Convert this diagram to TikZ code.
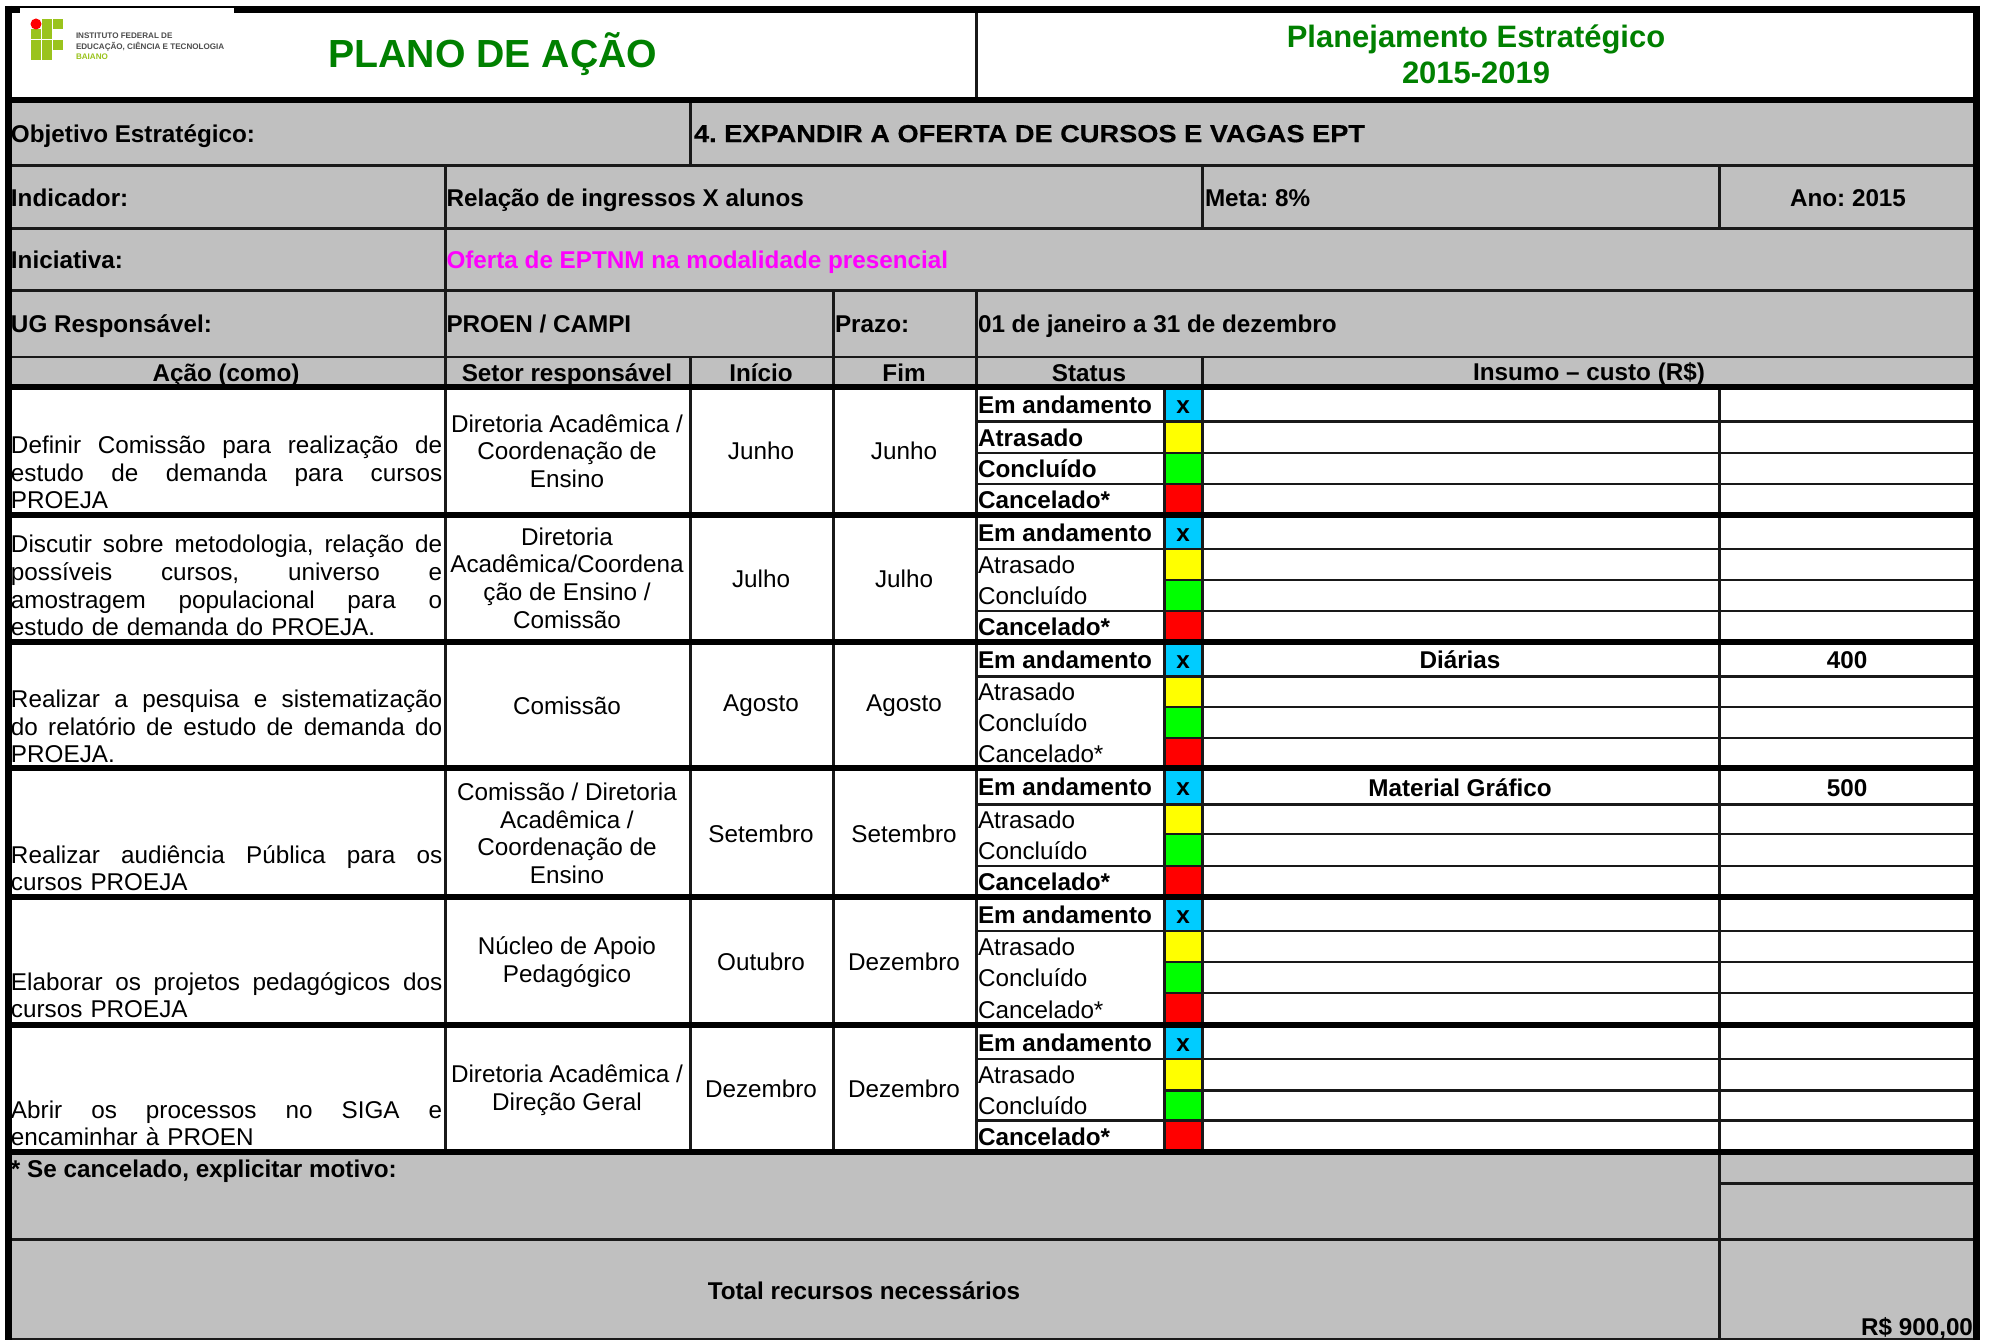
\documentclass[tikz,border=0pt]{standalone}
\usepackage{fontspec}
\setmainfont{Liberation Sans}
\newfontfamily\widefont[BoldFeatures={FakeStretch=1.105,FakeBold=0.4}]{Liberation Sans}
\newcommand{\fs}{\fontsize{6.9}{7.85}\selectfont\frenchspacing}
\newcommand{\jl}[1]{\makebox[4.31cm][s]{\spaceskip=0pt\xspaceskip=0pt\relax #1}}
\definecolor{cellgrey}{HTML}{C0C0C0}
\definecolor{titlegreen}{HTML}{008000}
\definecolor{logogreen}{HTML}{9AC31C}
\definecolor{statblue}{HTML}{00CCFF}
\definecolor{statgreen}{HTML}{00FF00}
\definecolor{statyellow}{HTML}{FFFF00}
\definecolor{statred}{HTML}{FF0000}
\definecolor{pinktext}{HTML}{FF00FF}
\tikzset{
  every node/.style={font=\fs,inner sep=0pt,outer sep=0pt,text=black},
  thinln/.style={line width=0.85pt,draw=black!90},
  thickln/.style={line width=1.7pt,draw=black},
  outerln/.style={line width=2.1pt,draw=black},
  lab/.style={anchor=west,text height=6.3pt,text depth=1.1pt,font=\fs\bfseries},
  ctr/.style={anchor=center,text height=6.3pt,text depth=1.1pt,font=\fs\bfseries},
  plainctr/.style={anchor=center,align=center,font=\fs},
  acao/.style={anchor=south west,text width=4.31cm,align=left,font=\fs},
}
% #1 id, #2-#6 row lines, #7 #8 #9 fonts of the lower three labels
\newcommand{\statusgrp}[9]{%
  \fill[statblue] (1164,#2) rectangle (1202,#3);
  \fill[statyellow] (1164,#3) rectangle (1202,#4);
  \fill[statgreen] (1164,#4) rectangle (1202,#5);
  \fill[statred] (1164,#5) rectangle (1202,#6);
  \draw[thinln] (976,#3) -- (1975,#3);
  \draw[thinln] (1164,#4) -- (1975,#4);
  \draw[thinln] (1164,#5) -- (1975,#5);
  \path (978,{(#2+#3)/2}) node[lab] (em#1) {Em andamento};
  \path (1183,{(#2+#3)/2}) node[ctr] (x#1) {x};
  \path (978,{(#3+#4)/2}) node[lab,font=\fs#7] (at#1) {Atrasado};
  \path (978,{(#4+#5)/2}) node[lab,font=\fs#8] (co#1) {Concluído};
  \path (978,{(#5+#6)/2}) node[lab,font=\fs#9] (ca#1) {Cancelado*};
}
\begin{document}
\begin{tikzpicture}[x=0.01cm,y=-0.01cm]
\useasboundingbox (0,0) rectangle (1991,1340);
\clip (0,0) rectangle (1991,1340);
\fill[white] (0,0) rectangle (1991,1340);
% grey areas
\fill[cellgrey] (8,100) rectangle (1975,387);
\fill[cellgrey] (8,1152) rectangle (1975,1340);
% status boxes and row lines
\statusgrp{a}{387}{421.7}{453}{484}{515}{\bfseries}{\bfseries}{\bfseries}
\statusgrp{b}{515}{549}{580}{611}{641.7}{\mdseries}{\mdseries}{\bfseries}
\statusgrp{c}{641.7}{676.7}{707}{738}{768}{\mdseries}{\mdseries}{\mdseries}
\statusgrp{d}{768}{804.5}{834}{866}{897}{\mdseries}{\mdseries}{\bfseries}
\statusgrp{e}{897}{931}{962}{993}{1025}{\mdseries}{\mdseries}{\mdseries}
\statusgrp{f}{1025}{1059}{1090}{1120}{1152}{\mdseries}{\mdseries}{\bfseries}
\draw[thinln] (976,453) -- (1164,453);
\draw[thinln] (976,484) -- (1164,484);
\draw[thinln] (976,611) -- (1164,611);
\draw[thinln] (976,866) -- (1164,866);
\draw[thinln] (976,1120) -- (1164,1120);
% horizontal lines
\draw[thinln] (8,166) -- (1975,166);
\draw[thinln] (8,229) -- (1975,229);
\draw[thinln] (8,291) -- (1975,291);
\draw[thinln] (8,357) -- (1975,357);
\draw[thinln] (1719,1183) -- (1975,1183);
\draw[thinln] (8,1239) -- (1975,1239);
\draw[thinln] (8,1339) -- (1975,1339);
% vertical lines
\draw[thinln] (976,11) -- (976,100);
\draw[thinln] (690,100) -- (690,166);
\draw[thinln] (445,166) -- (445,1152);
\draw[thinln] (1202,166) -- (1202,229);
\draw[thinln] (1719,166) -- (1719,229);
\draw[thinln] (833,291) -- (833,387);
\draw[thinln] (976,291) -- (976,1152);
\draw[thinln] (690,357) -- (690,1152);
\draw[thinln] (833,387) -- (833,1152);
\draw[thinln] (1164,387) -- (1164,1152);
\draw[thinln] (1202,357) -- (1202,1152);
\draw[thinln] (1719,387) -- (1719,1340);
% thick lines
\draw[thickln] (8,100) -- (1975,100);
\draw[thickln] (8,387) -- (1975,387);
\draw[thickln] (8,515) -- (1975,515);
\draw[thickln] (8,641.7) -- (1975,641.7);
\draw[thickln] (8,768) -- (1975,768);
\draw[thickln] (8,897) -- (1975,897);
\draw[thickln] (8,1025) -- (1975,1025);
\draw[thickln] (8,1152) -- (1975,1152);
\draw[outerln] (6,9.5) -- (1977,9.5);
\draw[outerln] (8.5,6) -- (8.5,1340);
\draw[outerln] (1976.5,6) -- (1976.5,1340);
% logo
\fill[white] (20,8) rectangle (234,90);
\foreach \cx/\cy in {42/19,53/19,31/29,42/29,31/40,42/40,53/40,31/50,42/50}
  \fill[logogreen] (\cx,\cy) rectangle ++(10.3,9.7);
\fill[statred] (36,24) circle (5.5);
\node[anchor=west,font=\fontsize{2.3}{3}\selectfont\bfseries,text=black!70] (logoa) at (76,36) {INSTITUTO FEDERAL DE};
\node[anchor=west,font=\fontsize{2.3}{3}\selectfont\bfseries,text=black!70] (logob) at (76,47) {EDUCAÇÃO, CIÊNCIA E TECNOLOGIA};
\node[anchor=west,font=\fontsize{2.3}{3}\selectfont\bfseries,text=logogreen] (logoc) at (76,57) {BAIANO};
% titles
\node[anchor=center,font=\fontsize{11.15}{13}\selectfont\bfseries,text=titlegreen] (title) at (493,54) {PLANO DE AÇÃO};
\node[anchor=center,align=center,font=\fontsize{8.8}{10.1}\selectfont\bfseries,text=titlegreen] (plan) at (1476,54.5) {Planejamento Estratégico\\2015-2019};
% grey rows
\node[lab] (obj) at (11,133) {Objetivo Estratégico:};
\node[anchor=west,text height=6.3pt,text depth=1.1pt,font=\widefont\fontsize{7}{8}\selectfont\bfseries\frenchspacing] (obv) at (694,133) {4. EXPANDIR A OFERTA DE CURSOS E VAGAS EPT};
\node[lab] (ind) at (11,197) {Indicador:};
\node[lab] (rel) at (446.5,197) {Relação de ingressos X alunos};
\node[lab] (meta) at (1205,197) {Meta: 8\%};
\node[ctr] (ano) at (1848,197) {Ano: 2015};
\node[lab] (ini) at (11,259) {Iniciativa:};
\node[lab,text=pinktext] (ofe) at (446.5,259) {Oferta de EPTNM na modalidade presencial};
\node[lab] (ug) at (11,323) {UG Responsável:};
\node[lab] (pro) at (446.5,323) {PROEN / CAMPI};
\node[lab] (pra) at (835,323) {Prazo:};
\node[lab] (jan) at (978,323) {01 de janeiro a 31 de dezembro};
% header row
\node[ctr] (h1) at (226,372) {Ação (como)};
\node[ctr] (h2) at (567,372) {Setor responsável};
\node[ctr] (h3) at (761,372) {Início};
\node[ctr] (h4) at (904,372) {Fim};
\node[ctr] (h5) at (1089,372) {Status};
\node[ctr] (h6) at (1589,371) {Insumo – custo (R\$)};
% action column
\node[acao] (a1) at (11,509) {\jl{Definir Comissão para realização de}\\\jl{estudo de demanda para cursos}\\PROEJA};
\node[acao] (a2) at (11,636) {\jl{Discutir sobre metodologia, relação de}\\\jl{possíveis cursos, universo e}\\\jl{amostragem populacional para o}\\estudo de demanda do PROEJA.};
\node[acao] (a3) at (11,763) {\jl{Realizar a pesquisa e sistematização}\\\jl{do relatório de estudo de demanda do}\\PROEJA.};
\node[acao] (a4) at (11,891) {\jl{Realizar audiência Pública para os}\\cursos PROEJA};
\node[acao] (a5) at (11,1018) {\jl{Elaborar os projetos pedagógicos dos}\\cursos PROEJA};
\node[acao] (a6) at (11,1146) {\jl{Abrir os processos no SIGA e}\\encaminhar à PROEN};
% sector column
\node[plainctr] (s1) at (567,451) {Diretoria Acadêmica /\\Coordenação de\\Ensino};
\node[plainctr] (s2) at (567,578) {Diretoria\\Acadêmica/Coordena\\ção de Ensino /\\Comissão};
\node[plainctr] (s3) at (567,706) {Comissão};
\node[plainctr] (s4) at (567,833.5) {Comissão / Diretoria\\Acadêmica /\\Coordenação de\\Ensino};
\node[plainctr] (s5) at (567,962) {Núcleo de Apoio\\Pedagógico};
\node[plainctr] (s6) at (567,1090) {Diretoria Acadêmica /\\Direção Geral};
% start and end
\node[plainctr] (i1) at (761,451) {Junho};
\node[plainctr] (f1) at (904,451) {Junho};
\node[plainctr] (i2) at (761,579) {Julho};
\node[plainctr] (f2) at (904,579) {Julho};
\node[plainctr] (i3) at (761,706) {Agosto};
\node[plainctr] (f3) at (904,706) {Agosto};
\node[plainctr] (i4) at (761,834) {Setembro};
\node[plainctr] (f4) at (904,834) {Setembro};
\node[plainctr] (i5) at (761,962) {Outubro};
\node[plainctr] (f5) at (904,962) {Dezembro};
\node[plainctr] (i6) at (761,1089) {Dezembro};
\node[plainctr] (f6) at (904,1089) {Dezembro};
% inputs
\node[ctr] (d1) at (1460,659) {Diárias};
\node[ctr] (v1) at (1847,659) {400};
\node[ctr] (d2) at (1460,787) {Material Gráfico};
\node[ctr] (v2) at (1847,787) {500};
% footer
\node[lab] (mot) at (11,1168) {* Se cancelado, explicitar motivo:};
\node[ctr] (tot) at (864,1290) {Total recursos necessários};
\node[anchor=east,text height=6.3pt,text depth=1.1pt,font=\fs\bfseries] (val) at (1973,1326) {R\$ 900,00};
\end{tikzpicture}
\end{document}
